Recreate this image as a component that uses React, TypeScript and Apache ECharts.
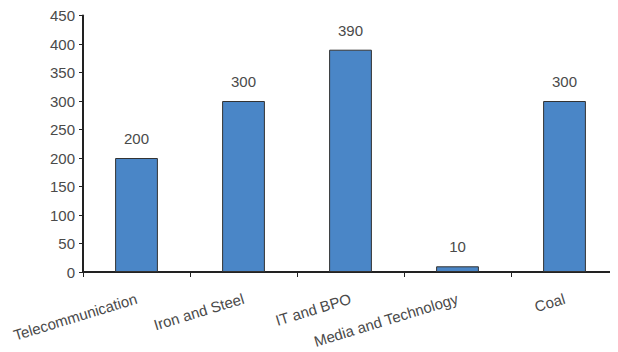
import React, { useEffect, useRef } from "react";
import * as echarts from "echarts";

const categories = ["Telecommunication", "Iron and Steel", "IT and BPO", "Media and Technology", "Coal"];
const values = [200, 300, 390, 10, 300];

export default function App() {
  const ref = useRef<HTMLDivElement>(null);
  useEffect(() => {
    const chart = echarts.init(ref.current!, null, { renderer: "svg" });
    const font = "Liberation Sans, Arial, Helvetica, sans-serif";
    chart.setOption({
      animation: false,
      grid: { left: 75, top: 7, width: 540, height: 257 },
      xAxis: {
        type: "category",
        data: categories,
        axisLine: { show: true, lineStyle: { color: "#222", width: 2 } },
        axisTick: { show: true, alignWithLabel: false, length: 5, lineStyle: { color: "#222" } },
        axisLabel: {
          rotate: 17,
          margin: 26,
          color: "#4a4a4a",
          fontSize: 15,
          fontFamily: font,
          interval: 0,
        },
      },
      yAxis: {
        type: "value",
        min: 0,
        max: 450,
        interval: 50,
        splitLine: { show: false },
        axisLine: { show: true, lineStyle: { color: "#222", width: 2 } },
        axisTick: { show: true, length: 4, lineStyle: { color: "#222" } },
        axisLabel: { color: "#4a4a4a", fontSize: 15, fontFamily: font, margin: 8 },
      },
      series: [
        {
          type: "bar",
          data: values,
          barWidth: "40%",
          itemStyle: { color: "#4A86C7", borderColor: "#333", borderWidth: 1 },
          label: {
            show: true,
            position: "top",
            distance: 12,
            color: "#4a4a4a",
            fontSize: 15,
            fontFamily: font,
          },
        },
      ],
    });
    return () => chart.dispose();
  }, []);
  return <div ref={ref} style={{ width: 610, height: 344 }} />;
}
